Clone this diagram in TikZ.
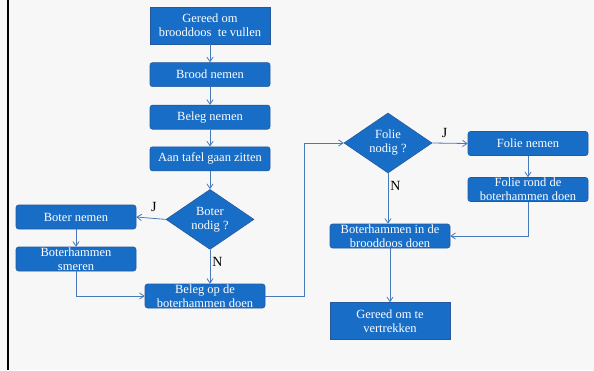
\documentclass[tikz,border=0pt]{standalone}
\usepackage{fontspec}
\setmainfont{Liberation Serif}
\usetikzlibrary{arrows.meta,positioning,shapes.geometric}
\definecolor{stepfill}{RGB}{24,110,198}
\definecolor{stepedge}{RGB}{38,88,158}
\definecolor{flowline}{RGB}{72,122,186}
\definecolor{slidebg} {RGB}{247,247,247}

\begin{document}
\begin{tikzpicture}[
  x=1pt, y=-1pt,
  font=\fontsize{12.5}{14}\selectfont,
  >={Straight Barb[length=1.6mm,width=2.2mm]},
  every node/.style={align=center},
  box/.style={
      rectangle, rounded corners=2.5pt,
      draw=stepedge, line width=0.6pt,
      fill=stepfill, text=white,
      minimum width=120pt, minimum height=24pt,
      inner xsep=2pt, inner ysep=0pt
  },
  endbox/.style={
      box, rounded corners=0pt, minimum height=37pt
  },
  decision/.style={
      diamond, draw=stepedge, line width=0.6pt,
      fill=stepfill, text=white, aspect=1.46,
      inner sep=0pt, minimum width=88pt, minimum height=60pt
  },
  arr/.style={->, draw=flowline, line width=0.8pt},
  tag/.style={font=\fontsize{14}{15}\selectfont, text=black, inner sep=2pt}
]

% slide background and left rule
\useasboundingbox[fill=slidebg] (0,0) rectangle (594,370);
\draw[black, line width=2pt] (8,0) -- (8,370);

% =========================================================
% LEFT COLUMN: preparing the sandwiches
% =========================================================
\node[endbox]                  (start) at (210,25.5) {Gereed om\\brooddoos\ \ te vullen};
\node[box, below=18pt of start] (brood) {Brood nemen};
\node[box, below=18pt of brood] (beleg) {Beleg nemen};
\node[box, below=17pt of beleg] (tafel) {Aan tafel gaan zitten};
\node[decision, below=18pt of tafel] (boter) {Boter\\nodig ?};

\node[box] (boternemen) at (76,217) {Boter nemen};
\node[box] (smeren)     at (76,259) {Boterhammen\\smeren};
\node[box] (belegop)    at (205,296) {Beleg op de\\boterhammen doen};

% chain down
\draw[arr] (start) -- (brood);
\draw[arr] (brood) -- (beleg);
\draw[arr] (beleg) -- (tafel);
\draw[arr] (tafel) -- (boter);

% butter decision
\draw[arr] (boter.west) -- node[tag, above=4pt, pos=0.4]{J} (boternemen.east);
\draw[arr] (boter.south) -- node[tag, right, pos=0.35]{N} (boter.south |- belegop.north);
\draw[arr] (boternemen) -- (smeren);
\draw[arr] (smeren.south) |- (belegop.west);

% =========================================================
% RIGHT COLUMN: foil and packing
% =========================================================
\node[decision] (folie)      at (388,143) {Folie\\nodig ?};
\node[box]      (folienemen) at (528,143.5) {Folie nemen};
\node[box]      (folierond)  at (528,189.5) {Folie rond de\\boterhammen doen};
\node[box]      (brooddoos)  at (390,236) {Boterhammen in de\\brooddoos doen};
\node[endbox]   (vertrek)    at (390,321) {Gereed om te\\vertrekken};

% loop over from the left column into the foil decision
\draw[arr] (belegop.east) -- ++(39,0) |- (folie.west);

\draw[arr] (folie.east) -- node[tag, above=3pt, pos=0.35]{J} (folienemen.west);
\draw[arr] (folie.south) -- node[tag, right, pos=0.26]{N} (folie.south |- brooddoos.north);
\draw[arr] (folienemen) -- (folierond);
\draw[arr] (folierond.south) |- (brooddoos.east);
\draw[arr] (brooddoos) -- (vertrek);

\end{tikzpicture}
\end{document}
